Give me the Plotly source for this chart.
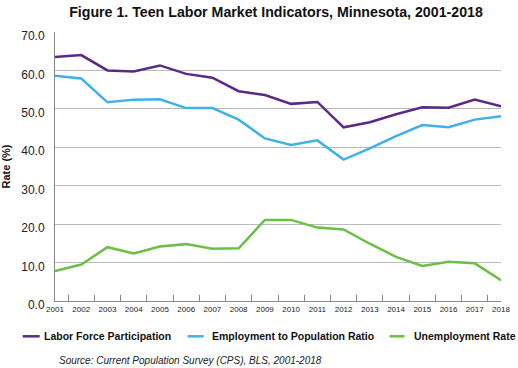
import plotly.graph_objects as go

years = [str(y) for y in range(2001, 2019)]
labor_force = [63.5, 64.0, 60.0, 59.7, 61.3, 59.1, 58.1, 54.6, 53.6, 51.3, 51.8, 45.2, 46.5, 48.6, 50.4, 50.3, 52.4, 50.7]
employment = [58.6, 57.9, 51.7, 52.4, 52.5, 50.2, 50.2, 47.2, 42.3, 40.6, 41.8, 36.8, 39.7, 42.9, 45.8, 45.2, 47.2, 48.1]
unemployment = [7.8, 9.5, 14.0, 12.4, 14.2, 14.8, 13.6, 13.7, 21.1, 21.1, 19.1, 18.6, 14.9, 11.5, 9.1, 10.2, 9.8, 5.4]
series_names = ["Labor Force Participation", "Employment to Population Ratio", "Unemployment Rate"]
colors = ["#5b2a86", "#3fb0e8", "#6abf45"]
y_ticks = [0, 10, 20, 30, 40, 50, 60, 70]

FONT = "Liberation Sans, Arial, sans-serif"

fig = go.Figure()
for name, vals, c in zip(series_names, [labor_force, employment, unemployment], colors):
    fig.add_trace(go.Scatter(x=years, y=vals, name=name, mode="lines",
                             line=dict(color=c, width=2.5), showlegend=False))

W, H = 518, 368
L, R, T, B = 55.3, 16.5, 31.7, 67.3
pw = W - L - R
ph = H - T - B

def px(x):
    return (x - L) / pw

def py(y):
    return (H - B - y) / ph

fig.update_layout(
    width=W, height=H,
    margin=dict(l=L, r=R, t=T, b=B),
    paper_bgcolor="white", plot_bgcolor="white",
    font=dict(family=FONT, color="#222"),
    title=dict(text="<b>Figure 1. Teen Labor Market Indicators, Minnesota, 2001-2018</b>",
               x=276 / W, xanchor="center", y=1 - 12 / H, yanchor="middle",
               font=dict(size=14.2, family=FONT, color="#111")),
    xaxis=dict(type="category", tickson="boundaries", ticks="inside", ticklen=6,
               tickcolor="#888", showline=True, linecolor="#888", linewidth=1,
               showgrid=False, tickangle=0, automargin=False,
               tickfont=dict(size=8, family=FONT, color="#222"),
               mirror=False),
    yaxis=dict(range=[0, 70], tickvals=y_ticks, tickformat=".1f",
               showgrid=True, gridcolor="#bbbbbb", gridwidth=1,
               showline=True, linecolor="#888", linewidth=1, zeroline=False,
               ticks="", ticklabelstandoff=7, ticklabelshift=4, automargin=False,
               tickfont=dict(size=12, family=FONT, color="#222"),
               title=dict(text="<b>Rate (%)</b>", font=dict(size=11, family=FONT, color="#111"),
                          standoff=8)),
)

# manual legend
legend_items = [(23, 40, 42), (188, 204, 210), (390, 405, 412)]
for (x0, x1, xt), name, c in zip(legend_items, series_names, colors):
    fig.add_shape(type="line", xref="paper", yref="paper",
                  x0=px(x0), x1=px(x1), y0=py(336), y1=py(336),
                  line=dict(color=c, width=2.5))
    fig.add_annotation(xref="paper", yref="paper", x=px(xt), y=py(336),
                       xanchor="left", yanchor="middle", showarrow=False,
                       text=f"<b>{name}</b>", font=dict(size=10.5, family=FONT, color="#111"))

fig.add_annotation(xref="paper", yref="paper", x=px(57), y=py(360),
                   xanchor="left", yanchor="middle", showarrow=False,
                   text="<i>Source: Current Population Survey (CPS), BLS, 2001-2018</i>",
                   font=dict(size=10, family=FONT, color="#222"))

fig.write_html("out.html", config={"displayModeBar": False},
               post_script="document.body.style.margin='0';document.body.style.overflow='hidden';")
